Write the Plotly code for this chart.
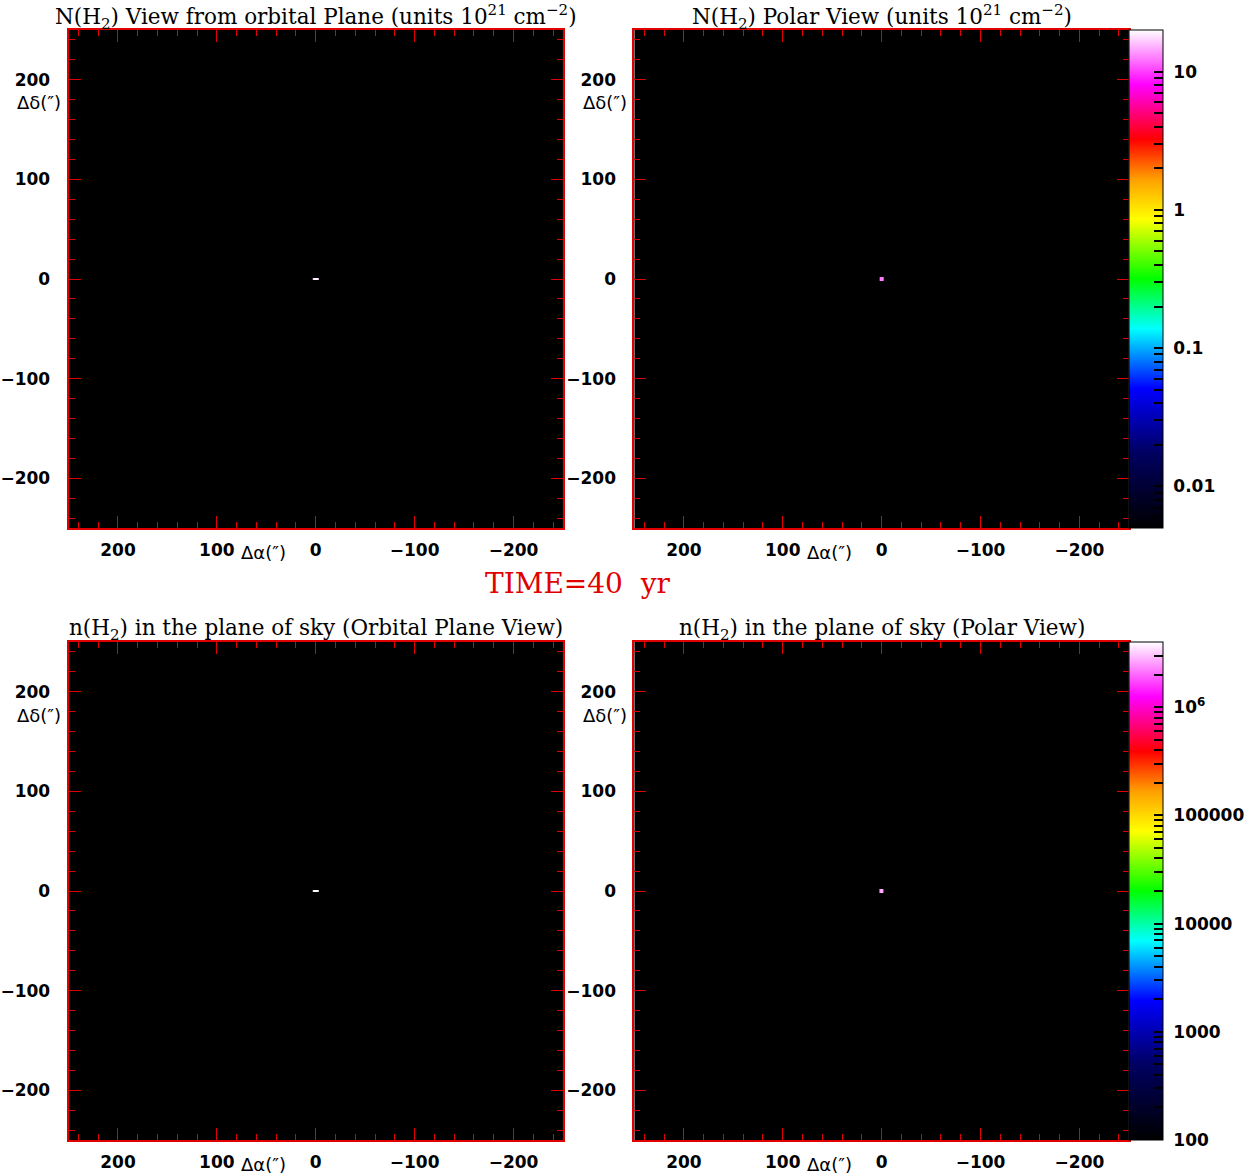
import numpy as np
import plotly.graph_objects as go

# column density N(H2), units 1e21 cm^-2 (tiny central source)
orb_N_x = [-2, 0, 2]
orb_N_y = [-0.5, 0.5]
orb_N = [[18, 20, 18],
         [18, 20, 18]]

pol_N_x = [-1, 1]
pol_N_y = [-1, 1]
pol_N = [[12, 13],
         [13, 12]]

# volume density n(H2) in the plane of sky, cm^-3
orb_n_x = [-2, 0, 2]
orb_n_y = [-0.5, 0.5]
orb_n = [[3.8e6, 4.0e6, 3.8e6],
         [3.8e6, 4.0e6, 3.8e6]]

pol_n_x = [-1.5, 0, 1.5]
pol_n_y = [-1, 1]
pol_n = [[2.6e6, 3.0e6, 2.6e6],
         [2.6e6, 3.0e6, 2.6e6]]

N_range = [0.005, 20]
n_range = [100, 4.0e6]
N_labels = {-2: "0.01", -1: "0.1", 0: "1", 1: "10"}
n_labels = {2: "100", 3: "1000", 4: "10000", 5: "100000", 6: "10<sup>6</sup>"}

titles = [
    "N(H<sub>2</sub>) View from orbital Plane (units 10<sup>21</sup> cm<sup>−2</sup>)",
    "N(H<sub>2</sub>) Polar View (units 10<sup>21</sup> cm<sup>−2</sup>)",
    "n(H<sub>2</sub>) in the plane of sky (Orbital Plane View)",
    "n(H<sub>2</sub>) in the plane of sky (Polar View)",
]
time_label = "TIME=40  yr"

W, H = 1254, 1176
colors = [[0.0, "#000000"], [0.15, "#000060"], [0.28, "#0000ff"], [0.40, "#00ffff"],
          [0.50, "#00ff00"], [0.62, "#ffff00"], [0.70, "#ffa000"], [0.78, "#ff0000"],
          [0.89, "#ff00ff"], [1.0, "#ffffff"]]

tick_font = dict(family="DejaVu Sans", size=17, color="black", weight="bold")


def log_ticks(lo, hi, labels):
    vals, text = [], []
    for d in range(int(np.floor(lo)) - 1, int(np.ceil(hi)) + 1):
        for k in range(1, 10):
            v = d + np.log10(k)
            if lo <= v <= hi:
                vals.append(v)
                text.append("\u00a0" + labels[d] if (k == 1 and d in labels) else "")
    return vals, text


def colorbar(lo, hi, labels, y0, y1):
    tv, tt = log_ticks(lo, hi, labels)
    return dict(
        tickvals=tv, ticktext=tt, ticks="inside", ticklen=9, tickcolor="black", tickwidth=1.5,
        tickfont=tick_font,
        outlinecolor="black", outlinewidth=1, thickness=34,
        x=1133 / W, xanchor="left", xpad=0, ypad=0,
        y=(H - y1) / H, yanchor="bottom", len=(y1 - y0) / H, lenmode="fraction",
    )


# panel pixel boxes (left, top)
panels = [(65, 30), (635, 30), (65, 642), (635, 642)]
size = 498

fig = go.Figure()
data = [(orb_N_x, orb_N_y, orb_N, "coloraxis"), (pol_N_x, pol_N_y, pol_N, "coloraxis"),
        (orb_n_x, orb_n_y, orb_n, "coloraxis2"), (pol_n_x, pol_n_y, pol_n, "coloraxis2")]

for i, (x, y, z, ca) in enumerate(data):
    fig.add_trace(go.Heatmap(x=x, y=y, z=np.log10(np.array(z)), coloraxis=ca,
                             xaxis=f"x{i + 1}", yaxis=f"y{i + 1}"))

axis_common = dict(
    showline=True, linecolor="#e00000", linewidth=2, mirror="allticks",
    ticks="inside", ticklen=12, tickcolor="#e00000", tickwidth=1,
    showgrid=False, zeroline=False, tick0=0, dtick=100,
    tickfont=tick_font,
    minor=dict(ticks="inside", ticklen=6, tickcolor="#e00000", dtick=20, tick0=0, showgrid=False),
)

for i, (px, py) in enumerate(panels):
    n = "" if i == 0 else str(i + 1)
    xd = [px / W, (px + size) / W]
    yd = [(H - py - size) / H, (H - py) / H]
    fig.layout[f"xaxis{n}"] = dict(axis_common, domain=xd, range=[250, -250],
                                  anchor=f"y{i + 1}", ticklabelstandoff=6)
    fig.layout[f"yaxis{n}"] = dict(axis_common, domain=yd, range=[-250, 250],
                                  anchor=f"x{i + 1}", ticklabelstandoff=13)
    # panel title
    fig.add_annotation(text=titles[i], x=(px + size / 2) / W, y=(H - py + 13) / H,
                       xref="paper", yref="paper", xanchor="center", yanchor="middle",
                       showarrow=False,
                       font=dict(family="DejaVu Serif", size=21.5, color="black"))
    # axis labels
    fig.add_annotation(text="Δδ(″)", x=(px - 30) / W, y=(H - py - 73) / H,
                       xref="paper", yref="paper", xanchor="center", yanchor="middle",
                       showarrow=False, font=dict(tick_font, weight="normal", size=18))
    fig.add_annotation(text="Δα(″)", x=(px + 196) / W, y=(H - py - size - 24) / H,
                       xref="paper", yref="paper", xanchor="center", yanchor="middle",
                       showarrow=False, font=dict(tick_font, weight="normal", size=18))

fig.add_annotation(text=time_label, x=578 / W, y=(H - 583) / H, xref="paper", yref="paper",
                   xanchor="center", yanchor="middle", showarrow=False,
                   font=dict(family="DejaVu Serif", size=28, color="#e00000"))

fig.update_layout(
    width=W, height=H,
    margin=dict(l=0, r=0, t=0, b=0),
    paper_bgcolor="white", plot_bgcolor="black",
    showlegend=False,
    coloraxis=dict(colorscale=colors, cmin=np.log10(N_range[0]), cmax=np.log10(N_range[1]),
                   colorbar=colorbar(np.log10(N_range[0]), np.log10(N_range[1]), N_labels, 30, 528)),
    coloraxis2=dict(colorscale=colors, cmin=np.log10(n_range[0]), cmax=np.log10(n_range[1]),
                    colorbar=colorbar(np.log10(n_range[0]), np.log10(n_range[1]), n_labels, 642, 1140)),
)

# drop the browser's default body margin so the figure sits at the page corner
fig.write_html("out.html", config={"displayModeBar": False},
               post_script="document.body.style.margin='0';")
